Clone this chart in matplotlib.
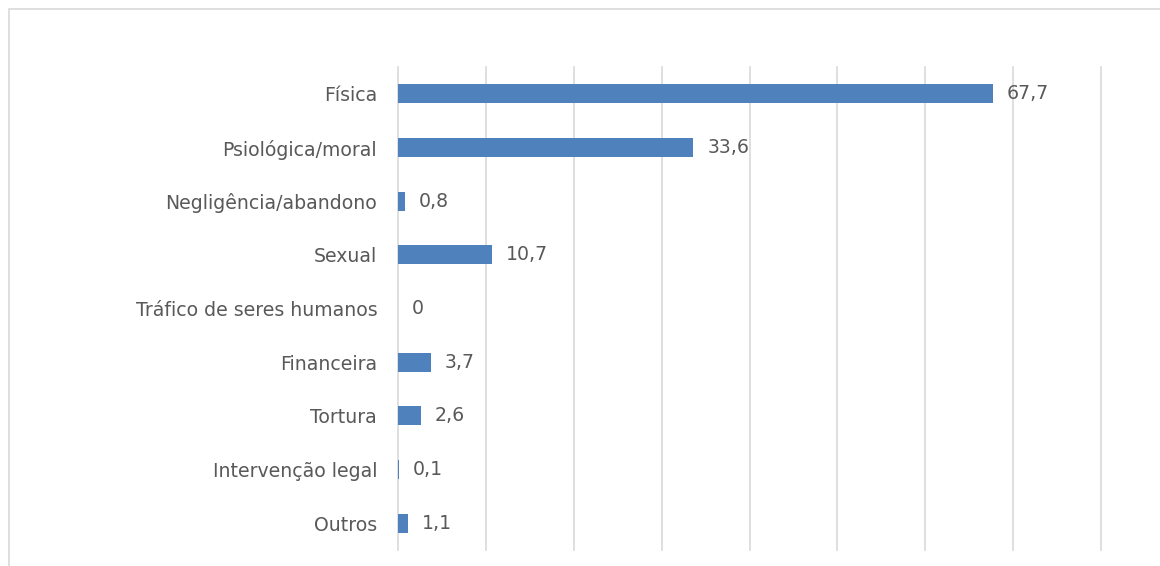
import matplotlib
matplotlib.use('Agg')
import matplotlib.pyplot as plt
from matplotlib.patches import Rectangle

categorias = ["Física", "Psiológica/moral", "Negligência/abandono", "Sexual",
              "Tráfico de seres humanos", "Financeira", "Tortura",
              "Intervenção legal", "Outros"]
valores = [67.7, 33.6, 0.8, 10.7, 0, 3.7, 2.6, 0.1, 1.1]

cor_barra = '#4F81BD'
cor_texto = '#595959'
cor_grade = '#D9D9D9'

plt.rcParams['font.family'] = 'DejaVu Sans'

fig = plt.figure(figsize=(11.6, 5.66), dpi=100)
# moldura cinza clara do gráfico
fig.patches.append(Rectangle((9 / 1160, -0.1), 1.2, 1 - 9 / 566 + 0.1,
                             transform=fig.transFigure, fill=False,
                             edgecolor='#D9D9D9', linewidth=1.2))

ax = fig.add_axes([398 / 1160, 16 / 566, 703 / 1160, 483 / 566])
pos = list(range(len(categorias)))
ax.barh(pos, valores, height=0.35, color=cor_barra, zorder=3)
ax.set_ylim(len(categorias) - 0.5, -0.5)
ax.set_xlim(0, 80)
ax.set_xticks([])
for x in range(0, 81, 10):
    ax.axvline(x, color=cor_grade, linewidth=1.2, clip_on=False, zorder=1)
ax.set_yticks(pos)
ax.set_yticklabels(categorias, fontsize=13.6, color=cor_texto)
ax.tick_params(axis='y', length=0, pad=15)
for s in ax.spines.values():
    s.set_visible(False)

for p, v in zip(pos, valores):
    txt = ('%g' % v).replace('.', ',')
    ax.annotate(txt, (v, p), xytext=(10, 0), textcoords='offset points',
                va='center', ha='left', fontsize=13.6, color=cor_texto)

fig.savefig('out.png', dpi=100)
